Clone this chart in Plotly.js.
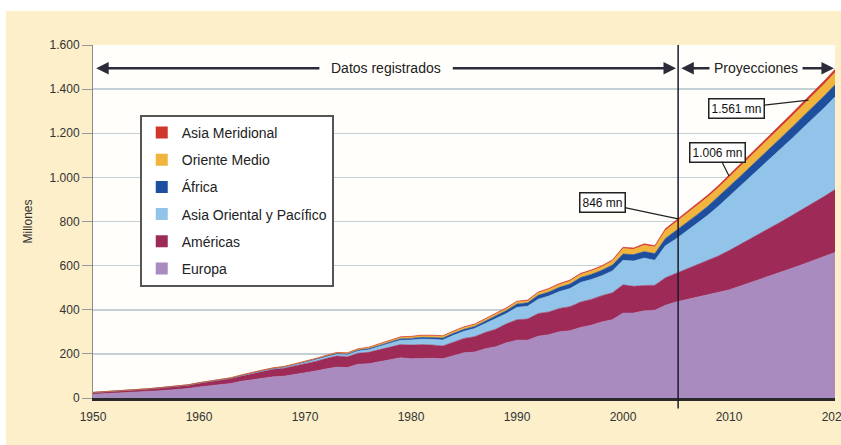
<!DOCTYPE html>
<html>
<head>
<meta charset="utf-8">
<script src="https://cdn.plot.ly/plotly-3.0.1.min.js"></script>
<style>html,body{margin:0;padding:0;background:#fff;}#chart{width:841px;height:445px;}</style>
</head>
<body>
<div id="chart"></div>
<script>
// Years 1950–2020 (recorded to 2005, projections after)
const years = [];
for (let y = 1950; y <= 2020; y++) years.push(y);

const europa = [17,19,21,23,26,29,32,35,38,43,
  50,55,60,66,76,83,91,96,99,106,
  113,122,132,140,138,153,155,165,175,182,
  178,180,180,178,190,205,208,223,232,250,
  262,262,280,287,300,305,320,330,345,355,
  385,385,395,398,420,435,446,457,468,479,
  490,506,522,538,555,572,589,606,623,641,
  660];
const americas = [7.5,8,8.5,9,10,11,12,13,14,15,
  17,18,20,22,24,26,30,34,36,39,
  42,44,47,50,49,50,52,54,57,60,
  62,62,60,58,63,65,70,74,80,86,
  93,96,103,103,106,109,115,117,119,122,
  128,121,115,113,125,130,138,146,155,165,
  178,188,198,208,218,229,240,251,262,273,
  285];
const asiaOriental = [0.2,0.2,0.25,0.3,0.35,0.4,0.5,0.6,0.7,0.8,
  0.9,1.1,1.3,1.5,1.8,2.1,2.6,3.1,3.8,4.9,
  6.2,7,7.8,8.8,9,10.2,12,14,17,20,
  23,25,26,27,31,32,37,42,48,47,
  56,58,65,72,77,82,89,90,90,99,
  111,115,124,113,145,156,172,188,205,225,
  245,262,280,297,315,333,350,368,385,402,
  420];
const africa = [0.5,0.55,0.6,0.6,0.65,0.7,0.7,0.75,0.75,0.8,
  0.8,1.0,1.1,1.2,1.3,1.4,1.6,1.8,2.0,2.2,
  2.4,2.8,3.2,3.6,4.0,4.5,5.0,5.5,6.0,6.6,
  7.2,8.0,8.5,8.7,9.2,9.7,9.6,10.5,12.5,13.8,
  15.2,16.0,17.9,18.5,19.0,20.4,22.0,23.3,25.0,26.5,
  28.3,28.9,29.5,30.7,33.3,37.3,38.5,40,41.5,43,
  45,46,47,48,49,50,51,52,53,54,
  55];
const orienteMedio = [0.2,0.22,0.24,0.26,0.28,0.3,0.35,0.4,0.45,0.5,
  0.6,0.7,0.8,0.9,1.0,1.1,1.2,1.4,1.5,1.7,
  1.9,2.2,2.6,3.0,3.5,4.0,4.5,5.2,5.9,6.5,
  7.1,7.5,7.8,8.0,8.2,8.5,8.0,8.3,8.6,9.0,
  9.6,8.5,11.0,12.5,13.0,13.7,14.5,15.0,15.5,18.0,
  24.9,24.5,29.2,30.0,36.3,39.0,40.5,40.8,41,41.5,
  42,43.3,44.6,45.9,47.2,48.5,49.8,51.1,52.4,53.7,
  55];
const asiaMeridional = [0.04,0.05,0.06,0.07,0.08,0.09,0.1,0.12,0.14,0.17,
  0.2,0.25,0.3,0.35,0.4,0.45,0.5,0.6,0.7,0.8,
  0.9,1.0,1.1,1.2,1.3,1.4,1.6,1.8,2.0,2.1,
  2.2,2.3,2.4,2.4,2.5,2.5,2.6,2.7,2.9,3.0,
  3.2,3.3,3.5,3.6,3.9,4.2,4.4,4.7,5.0,5.3,
  6.1,5.8,6.1,5.8,7.5,8.0,8.5,9,9.3,9.6,
  10,10.5,11,11.5,12,12.5,13,13.5,14,14.5,
  15];

const seriesNames = ["Europa","Américas","Asia Oriental y Pacífico","África","Oriente Medio","Asia Meridional"];
const seriesValues = [europa, americas, asiaOriental, africa, orienteMedio, asiaMeridional];
const seriesColors = ["#a98bc0","#9e2b57","#92c3e8","#1e4f9e","#f1b43c","#d1362c"];

const xTicks = [1950,1960,1970,1980,1990,2000,2010,2020];
const yTicks = [0,200,400,600,800,1000,1200,1400,1600];

const splitYear = 2005.2;
const callouts = [
  {text:"846 mn", x:2005.2, y:812, ax:-76, ay:-16},
  {text:"1.006 mn", x:2010, y:1006, ax:-12, ay:-24},
  {text:"1.561 mn", x:2017.5, y:1350, ax:-72, ay:8}
];

const FONT = "Liberation Sans Narrow, Arial Narrow, Liberation Sans, Arial, sans-serif";

const traces = [];
seriesNames.forEach((n,i)=>{
  traces.push({
    x: years, y: seriesValues[i], name: n, type:"scatter", mode:"lines",
    stackgroup:"one", line:{width:0.6, color:seriesColors[i], shape:"linear"},
    fillcolor: seriesColors[i], showlegend:false, hoverinfo:"skip"
  });
});
// legend entries (top to bottom)
[5,4,3,2,1,0].forEach(i=>{
  traces.push({
    x:[null], y:[null], type:"scatter", mode:"markers", name:seriesNames[i],
    legendgroup:"g"+i, marker:{symbol:"square", size:12, color:seriesColors[i]},
    showlegend:true
  });
});

const ARROW = "#2b2b3a";
const annotations = [
  {x:1977.6, y:1495, text:"Datos registrados", showarrow:false, font:{size:14, color:"#222", family:FONT}},
  {x:1950.3, y:1495, ax:1971.5, ay:1495, axref:"x", ayref:"y", text:"", showarrow:true, arrowhead:2, arrowsize:1, arrowwidth:2.5, arrowcolor:ARROW},
  {x:2005.0, y:1495, ax:1983.8, ay:1495, axref:"x", ayref:"y", text:"", showarrow:true, arrowhead:2, arrowsize:1, arrowwidth:2.5, arrowcolor:ARROW},
  {x:2012.5, y:1495, text:"Proyecciones", showarrow:false, font:{size:14, color:"#222", family:FONT}},
  {x:2005.5, y:1495, ax:2008.3, ay:1495, axref:"x", ayref:"y", text:"", showarrow:true, arrowhead:2, arrowsize:1, arrowwidth:2.5, arrowcolor:ARROW},
  {x:2019.9, y:1495, ax:2016.8, ay:1495, axref:"x", ayref:"y", text:"", showarrow:true, arrowhead:2, arrowsize:1, arrowwidth:2.5, arrowcolor:ARROW}
];
callouts.forEach(c=>{
  annotations.push({x:c.x, y:c.y, ax:c.ax, ay:c.ay, text:c.text, showarrow:true, arrowhead:0, arrowwidth:1.2, arrowcolor:"#222",
    bgcolor:"#ffffff", bordercolor:"#222", borderwidth:1.5, borderpad:2,
    font:{size:12, color:"#111", family:FONT}});
});

const layout = {
  width:841, height:445,
  margin:{l:93, r:6, t:45, b:47},
  paper_bgcolor:"#fcefca",
  plot_bgcolor:"#fffefb",
  separators:",.",
  font:{family:FONT, size:12, color:"#333"},
  showlegend:true,
  legend:{x:0.063, y:0.802, xanchor:"left", yanchor:"top", bgcolor:"#ffffff", bordercolor:"#555", borderwidth:2,
    font:{size:14, color:"#222", family:FONT}, tracegroupgap:6, traceorder:"grouped", itemwidth:30},
  xaxis:{range:[1950,2020], tickvals:xTicks, ticktext:xTicks.map(String), showgrid:false, zeroline:false,
    showline:true, linecolor:"#2a2a2a", linewidth:2.5, ticks:"", ticklabelstandoff:6, ticklabeloverflow:"allow",
    tickfont:{size:12, color:"#333", family:FONT}},
  yaxis:{range:[0,1600], tickvals:yTicks, tickformat:",d", showgrid:true, gridcolor:"#c3d0d6", gridwidth:1.5,
    zeroline:false, showline:true, linecolor:"#8a8a8a", linewidth:1, ticks:"outside", ticklen:10, tickcolor:"#999",
    tickfont:{size:12, color:"#333", family:FONT},
    title:{text:"Millones", font:{size:12, color:"#333", family:FONT}, standoff:14}},
  shapes:[
    {type:"rect", xref:"paper", yref:"paper", x0:-0.2, x1:1.1, y0:(398-11)/353, y1:1.2, fillcolor:"#ffffff", line:{width:0}, layer:"below"},
    {type:"rect", xref:"paper", yref:"paper", x0:-0.2, x1:(6-93)/742, y0:-0.2, y1:1.2, fillcolor:"#ffffff", line:{width:0}, layer:"below"},
    {type:"line", xref:"x", yref:"paper", x0:splitYear, x1:splitYear, y0:-0.03, y1:1, line:{color:"#1a1a2a", width:1.5}}
  ],
  annotations:annotations
};

Plotly.newPlot("chart", traces, layout, {displayModeBar:false, staticPlot:true});
</script>
</body>
</html>
